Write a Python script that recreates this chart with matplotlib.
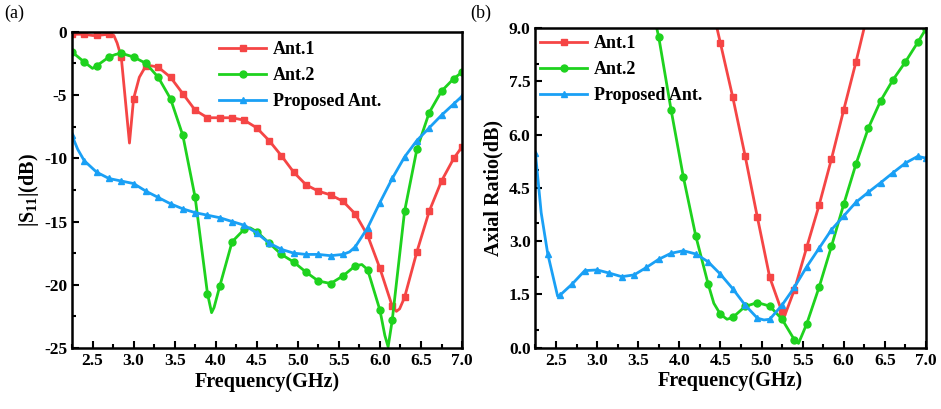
import numpy as np
import matplotlib
matplotlib.use('Agg')
from matplotlib import pyplot as plt
from matplotlib.ticker import MultipleLocator, FixedLocator

# Frequency grid where the markers sit (every 0.15 GHz)
freq = [2.25, 2.4, 2.55, 2.7, 2.85, 3.0, 3.15, 3.3, 3.45, 3.6, 3.75, 3.9, 4.05, 4.2,
        4.35, 4.5, 4.65, 4.8, 4.95, 5.1, 5.25, 5.4, 5.55, 5.7, 5.85, 6.0, 6.15, 6.3,
        6.45, 6.6, 6.75, 6.9, 7.0]

# (a) |S11| in dB, read at the marker frequencies
s11_ant1 = [-0.2, -0.2, -0.3, -0.2, -2.0, -5.3, -2.7, -2.8, -3.6, -4.9, -6.2, -6.8, -6.8,
            -6.8, -7.0, -7.6, -8.6, -9.8, -11.1, -12.1, -12.6, -12.9, -13.4, -14.4, -16.1,
            -18.7, -21.7, -21.0, -17.4, -14.2, -11.8, -10.0, -9.1]
s11_ant2 = [-1.6, -2.4, -2.7, -2.0, -1.7, -2.0, -2.5, -3.6, -5.3, -8.2, -13.1, -20.7, -20.1,
            -16.6, -15.6, -15.8, -16.7, -17.6, -18.2, -19.0, -19.7, -19.9, -19.3, -18.5,
            -18.8, -22.0, -22.8, -14.2, -9.3, -6.4, -4.7, -3.7, -3.2]
s11_prop = [-8.2, -10.2, -11.1, -11.6, -11.8, -12.0, -12.6, -13.1, -13.6, -14.0, -14.3,
            -14.5, -14.7, -15.0, -15.3, -15.9, -16.7, -17.2, -17.5, -17.6, -17.6, -17.7,
            -17.6, -17.0, -15.5, -13.5, -11.6, -9.9, -8.6, -7.6, -6.6, -5.7, -5.1]
# extra points between markers (sharp dips / knees)
s11_ant1_extra = {2.5: -0.3, 2.76: -0.3, 2.8: -0.9, 2.95: -8.8, 3.07: -3.6, 3.22: -2.7,
                  6.2: -22.1, 6.24: -21.9}
s11_ant2_extra = {2.5: -2.9, 2.78: -1.8, 3.95: -22.2, 3.98: -21.8, 4.42: -15.5,
                  5.78: -18.4, 6.06: -24.0, 6.1: -24.9}
s11_prop_extra = {2.32: -9.3, 5.63: -17.4}

# (b) axial ratio in dB
ar_ant1 = [None] * 14 + [10.1, 8.58, 7.06, 5.41, 3.67, 1.98, 1.0, 1.63, 2.83, 4.01, 5.31,
                         6.70, 8.06, 9.5, None, None, None, None, None]
ar_ant2 = [None] * 9 + [10.3, 8.75, 6.70, 4.80, 3.15, 1.80, 0.94, 0.85, 1.16, 1.27, 1.17,
                        0.80, 0.22, 0.67, 1.70, 2.85, 4.04, 5.18, 6.19, 6.96, 7.55, 8.05,
                        8.60, 8.98]
ar_prop = [5.48, 2.64, 1.48, 1.80, 2.17, 2.19, 2.10, 2.0, 2.05, 2.26, 2.49, 2.66, 2.73, 2.64,
           2.42, 2.07, 1.66, 1.20, 0.83, 0.80, 1.20, 1.70, 2.28, 2.80, 3.32, 3.71, 4.10,
           4.38, 4.65, 4.93, 5.20, 5.39, 5.34]
ar_ant1_extra = {5.28: 0.89}
ar_ant2_extra = {4.42: 1.25, 4.58: 0.80, 5.45: 0.12}
ar_prop_extra = {2.32: 3.8, 2.52: 1.45, 5.03: 0.78}

labels = ["Ant.1", "Ant.2", "Proposed Ant."]
colors = ['#F54545', '#1ED21E', '#1AA0F5']
markers = ['s', 'o', '^']

plt.rcParams['font.family'] = ['Liberation Serif', 'DejaVu Serif']
plt.rcParams['font.weight'] = 'bold'
plt.rcParams['axes.unicode_minus'] = False
plt.rcParams['mathtext.fontset'] = 'custom'
plt.rcParams['mathtext.rm'] = 'Liberation Serif:bold'
plt.rcParams['mathtext.bf'] = 'Liberation Serif:bold'


def merge(values, extra):
    # combine marker points and extra points, sorted by frequency
    pts = [(f, v) for f, v in zip(freq, values) if v is not None]
    pts += list(extra.items())
    pts.sort()
    x = np.array([p[0] for p in pts])
    y = np.array([p[1] for p in pts])
    mk = [i for i, p in enumerate(pts) if any(abs(p[0] - f) < 1e-9 for f in freq)]
    return x, y, mk


def style_axes(ax):
    for sp in ax.spines.values():
        sp.set_linewidth(1.8)
    ax.tick_params(which='both', direction='in', top=False, right=False, width=1.5,
                   labelsize=12.5)
    ax.tick_params(which='major', length=5)
    ax.tick_params(which='minor', length=3)
    ax.set_xlim(2.25, 7.0)
    ax.xaxis.set_major_locator(MultipleLocator(0.5))
    ax.xaxis.set_major_formatter(matplotlib.ticker.FormatStrFormatter('%.1f'))
    ax.xaxis.set_minor_locator(MultipleLocator(0.25))
    ax.set_xlabel("Frequency(GHz)", fontsize=14.5, fontweight='bold', labelpad=2)
    for lab in ax.get_xticklabels() + ax.get_yticklabels():
        lab.set_fontweight('bold')


fig = plt.figure(figsize=(9.41, 4.09), dpi=100)
ax1 = fig.add_axes([0.0765, 0.149, 0.4145, 0.7735])
ax2 = fig.add_axes([0.569, 0.150, 0.415, 0.781])

series_a = [(s11_ant1, s11_ant1_extra), (s11_ant2, s11_ant2_extra), (s11_prop, s11_prop_extra)]
for (vals, extra), lab, c, m in zip(series_a, labels, colors, markers):
    x, y, mk = merge(vals, extra)
    ax1.plot(x, y, color=c, lw=2, marker=m, markersize=5, markevery=mk, label=lab)

ax1.set_ylim(-25, 0)
ax1.yaxis.set_major_locator(MultipleLocator(5))
ax1.yaxis.set_minor_locator(MultipleLocator(2.5))
ax1.set_ylabel(r"|S$_{11}$|(dB)", fontsize=14.5, fontweight='bold', labelpad=2)
style_axes(ax1)
ax1.legend(loc='upper left', bbox_to_anchor=(0.35, 1.004), frameon=False,
           prop={'weight': 'bold', 'size': 13}, handlelength=2.6, handletextpad=0.35,
           labelspacing=0.5, borderaxespad=0.2)

series_b = [(ar_ant1, ar_ant1_extra), (ar_ant2, ar_ant2_extra), (ar_prop, ar_prop_extra)]
for (vals, extra), lab, c, m in zip(series_b, labels, colors, markers):
    x, y, mk = merge(vals, extra)
    ax2.plot(x, y, color=c, lw=2, marker=m, markersize=5, markevery=mk, label=lab)

ax2.set_ylim(0, 9)
ax2.yaxis.set_major_locator(MultipleLocator(1.5))
ax2.yaxis.set_major_formatter(matplotlib.ticker.FormatStrFormatter('%.1f'))
ax2.yaxis.set_minor_locator(FixedLocator([0.5, 2.0, 3.5, 5.0, 6.5, 8.0]))
ax2.set_ylabel("Axial Ratio(dB)", fontsize=14.5, fontweight='bold', labelpad=4)
style_axes(ax2)
ax2.legend(loc='upper left', bbox_to_anchor=(-0.015, 1.012), frameon=False,
           prop={'weight': 'bold', 'size': 13}, handlelength=2.6, handletextpad=0.35,
           labelspacing=0.5, borderaxespad=0.2)

fig.text(0.004, 0.955, "(a)", fontsize=13, fontweight='normal')
fig.text(0.500, 0.955, "(b)", fontsize=13, fontweight='normal')

fig.savefig("out.png", dpi=100)
